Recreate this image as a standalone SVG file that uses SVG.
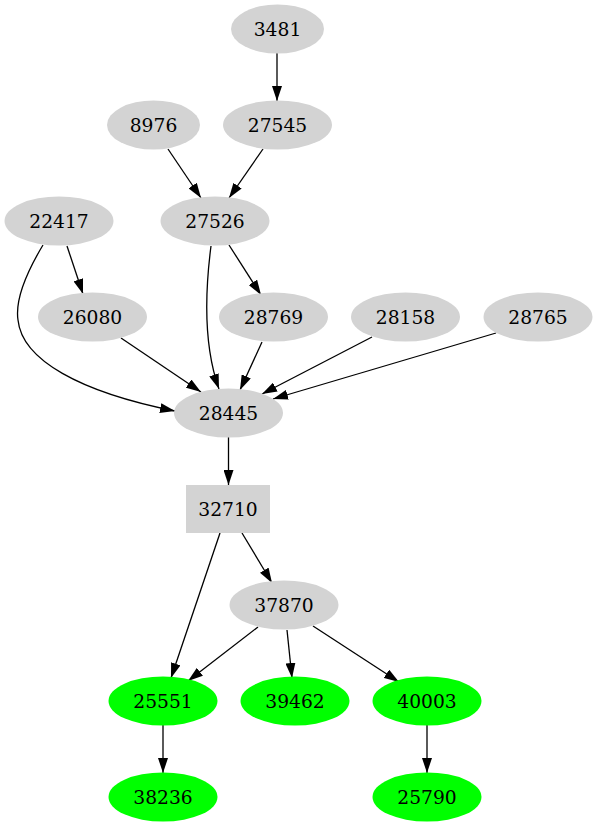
<svg xmlns="http://www.w3.org/2000/svg" width="597" height="827" viewBox="0 0 597 827">
<style>
.n ellipse, .n rect { fill: #d3d3d3; stroke: none; }
.g ellipse { fill: #00ff00; stroke: none; }
text { font-family: "DejaVu Serif", "Liberation Serif", serif; font-size: 18.7px; fill: #000; text-anchor: middle; }
.e path { fill: none; stroke: #000; stroke-width: 1.3; marker-end: url(#arr); }
</style>
<defs>
<marker id="arr" viewBox="0 0 15 10" refX="15" refY="5" markerWidth="15" markerHeight="10" markerUnits="userSpaceOnUse" orient="auto">
<path d="M0,0 L15,5 L0,10 z" fill="#000"/>
</marker>
</defs>
<rect width="597" height="827" fill="#fff"/>
<g id="edges" class="e">
<path d="M277,53 L277,101"/>
<path d="M168,149 L201,198"/>
<path d="M263,149 L229,198"/>
<path d="M229,245 L261,295"/>
<path d="M67,246 L83,294"/>
<path d="M43,245 C25,275 15,300 18,320 C22,360 80,392 175,411"/>
<path d="M211,246 C204,300 205,350 219,389"/>
<path d="M121,338 L201,392"/>
<path d="M262,342 L240,390"/>
<path d="M372,337 L262,394"/>
<path d="M496,333 L273,399"/>
<path d="M228.5,437 L228.5,485"/>
<path d="M220,533 L171,678"/>
<path d="M242,533 L272,583"/>
<path d="M258,627 L188,681"/>
<path d="M287,630 L292,678"/>
<path d="M313,626 L399,682"/>
<path d="M163,725 L163,773"/>
<path d="M427,725 L427,773"/>
</g>
<g id="n3481" class="n"><ellipse cx="277.5" cy="29" rx="46.5" ry="24.5"/><text x="277.5" y="36">3481</text></g>
<g id="n8976" class="n"><ellipse cx="153.5" cy="125" rx="46.5" ry="24.5"/><text x="153.5" y="132">8976</text></g>
<g id="n27545" class="n"><ellipse cx="277.5" cy="125" rx="54.5" ry="24.5"/><text x="277.5" y="132">27545</text></g>
<g id="n22417" class="n"><ellipse cx="59" cy="221" rx="54.5" ry="24.5"/><text x="59" y="228">22417</text></g>
<g id="n27526" class="n"><ellipse cx="215" cy="221" rx="54.5" ry="24.5"/><text x="215" y="228">27526</text></g>
<g id="n26080" class="n"><ellipse cx="92.5" cy="317" rx="54.5" ry="24.5"/><text x="92.5" y="324">26080</text></g>
<g id="n28769" class="n"><ellipse cx="273.5" cy="317" rx="54.5" ry="24.5"/><text x="273.5" y="324">28769</text></g>
<g id="n28158" class="n"><ellipse cx="405.5" cy="317" rx="54.5" ry="24.5"/><text x="405.5" y="324">28158</text></g>
<g id="n28765" class="n"><ellipse cx="538" cy="317" rx="54.5" ry="24.5"/><text x="538" y="324">28765</text></g>
<g id="n28445" class="n"><ellipse cx="228.5" cy="413" rx="54.5" ry="24.5"/><text x="228.5" y="420">28445</text></g>
<g id="n32710" class="n"><rect x="186" y="485" width="84" height="48"/><text x="228" y="516">32710</text></g>
<g id="n37870" class="n"><ellipse cx="284" cy="605" rx="54.5" ry="24.5"/><text x="284" y="612">37870</text></g>
<g id="n25551" class="g"><ellipse cx="163" cy="701" rx="54.5" ry="24.5"/><text x="163" y="708">25551</text></g>
<g id="n39462" class="g"><ellipse cx="295" cy="701" rx="54.5" ry="24.5"/><text x="295" y="708">39462</text></g>
<g id="n40003" class="g"><ellipse cx="427" cy="701" rx="54.5" ry="24.5"/><text x="427" y="708">40003</text></g>
<g id="n38236" class="g"><ellipse cx="163" cy="797" rx="54.5" ry="24.5"/><text x="163" y="804">38236</text></g>
<g id="n25790" class="g"><ellipse cx="427" cy="797" rx="54.5" ry="24.5"/><text x="427" y="804">25790</text></g>
</svg>
